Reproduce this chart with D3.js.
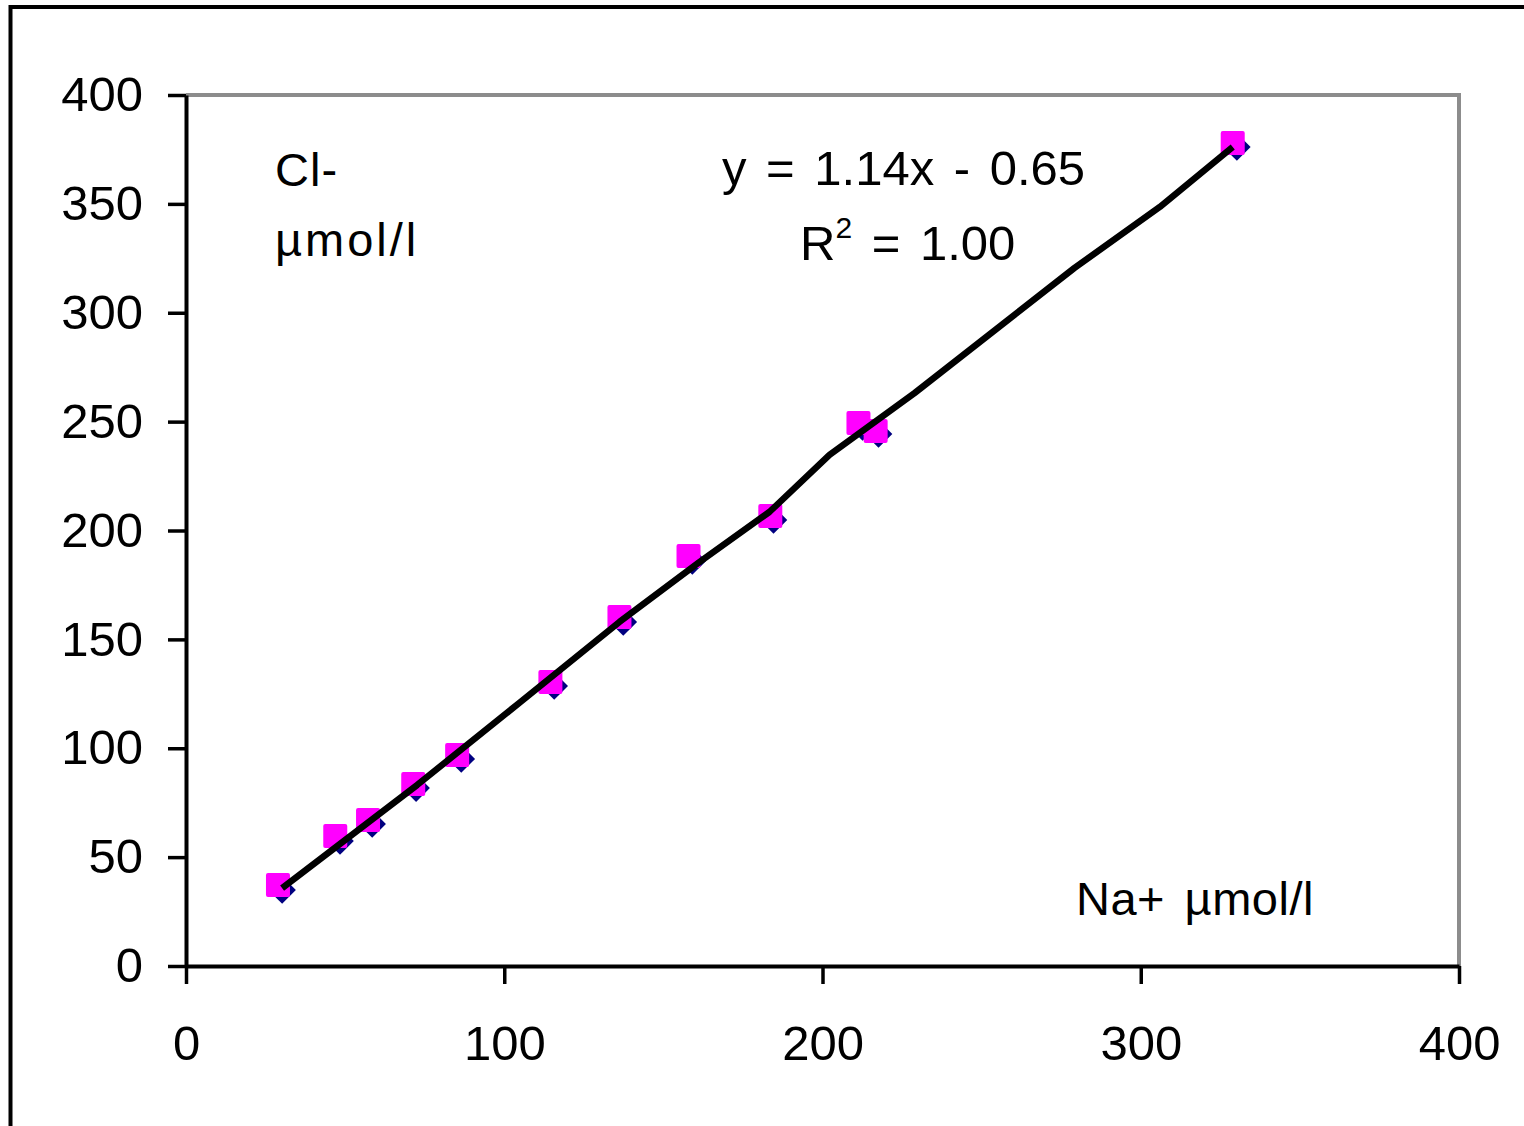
<!DOCTYPE html>
<html>
<head>
<meta charset="utf-8">
<script src="https://cdn.jsdelivr.net/npm/d3@7"></script>
<style>
  html, body { margin: 0; padding: 0; background: #fff; overflow: hidden; }
  svg { display: block; font-family: "Liberation Sans", Arial, sans-serif; }
</style>
</head>
<body>
<svg id="svg" width="1524" height="1126"></svg>
<script>
// Na+ / Cl- values
const naDiamond = [30.2, 48.4, 58.5, 72.3, 86.5, 115.7, 137.4, 159.1, 184.6, 212.6, 217.6, 330.2];
const clDiamond = [34.9, 57.4, 65.2, 81.7, 95.1, 128.6, 158.0, 186.0, 204.8, 247.5, 244.3, 376.1];

const naSquare = [28.9, 46.9, 57.2, 71.4, 85.2, 114.5, 136.2, 157.9, 183.6, 211.3, 216.7, 328.9];
const clSquare = [37.2, 59.7, 67.0, 83.6, 96.9, 130.4, 160.3, 188.3, 206.7, 249.4, 245.7, 378.0];

// black line vertices
const naLine = [30.2, 72.6, 104.7, 136.2, 161.3, 183.3, 202.2, 228.9, 279.2, 306.0, 328.9];
const clLine = [35.8, 83.1, 120.8, 158.0, 185.5, 208.5, 234.7, 263.1, 320.6, 348.6, 376.1];

const xTicks = [0, 100, 200, 300, 400];
const yTicks = [0, 50, 100, 150, 200, 250, 300, 350, 400];

const svg = d3.select("#svg");

// outer chart border (clipped on the right and bottom)
svg.append("rect")
  .attr("x", 10.5).attr("y", 7)
  .attr("width", 1700).attr("height", 1300)
  .attr("fill", "none")
  .attr("stroke", "#000")
  .attr("stroke-width", 4);

const x = d3.scaleLinear().domain([0, 400]).range([186, 1459]);
const y = d3.scaleLinear().domain([0, 400]).range([966, 95]);

// plot area: grey top/right
svg.append("path")
  .attr("d", `M${x(0)},${y(400)}H${x(400)}V${y(0)}`)
  .attr("fill", "none")
  .attr("stroke", "#8c8c8c")
  .attr("stroke-width", 4);

const yAxis = svg.append("g")
  .attr("transform", `translate(${x(0)},0)`)
  .call(d3.axisLeft(y).tickValues(yTicks).tickSize(18).tickSizeOuter(0).tickPadding(25));
const xAxis = svg.append("g")
  .attr("transform", `translate(0,${y(0)})`)
  .call(d3.axisBottom(x).tickValues(xTicks).tickSize(18).tickSizeOuter(0).tickPadding(41));

[xAxis, yAxis].forEach(a => {
  a.select(".domain").attr("stroke", "#000").attr("stroke-width", 4);
  a.selectAll(".tick line").attr("stroke", "#000").attr("stroke-width", 3.5);
  a.selectAll(".tick text")
    .attr("fill", "#000")
    .style("font-size", "49px")
    .style("font-family", "Liberation Sans, Arial, sans-serif");
});

// diamonds
const diamond = d3.symbol(d3.symbolSquare, 19.5 * 19.5);
svg.append("g").selectAll("path")
  .data(naDiamond.map((d, i) => [d, clDiamond[i]]))
  .join("path")
  .attr("d", diamond)
  .attr("transform", d => `translate(${x(d[0])},${y(d[1])}) rotate(45)`)
  .attr("fill", "#000080");

// squares
const sq = 24;
svg.append("g").selectAll("rect")
  .data(naSquare.map((d, i) => [d, clSquare[i]]))
  .join("rect")
  .attr("x", d => x(d[0]) - sq / 2)
  .attr("y", d => y(d[1]) - sq / 2)
  .attr("width", sq).attr("height", sq)
  .attr("rx", 2)
  .attr("fill", "#ff00ff");

// line
svg.append("path")
  .datum(naLine.map((d, i) => [d, clLine[i]]))
  .attr("d", d3.line().x(d => x(d[0])).y(d => y(d[1])))
  .attr("fill", "none")
  .attr("stroke", "#000")
  .attr("stroke-width", 6.5)
  .attr("stroke-linejoin", "round");

// labels
const lab = (tx, ty, t, fs) => svg.append("text")
  .attr("x", tx).attr("y", ty)
  .style("font-size", fs + "px")
  .attr("fill", "#000")
  .text(t);

lab(275, 186, "Cl-", 47).style("letter-spacing", "1px");
lab(275, 256, "µmol/l", 47).style("letter-spacing", "3px");
lab(1076, 915, "Na+ µmol/l", 47).style("word-spacing", "6px").style("letter-spacing", "0.5px");
lab(722, 185, "y = 1.14x - 0.65", 49).style("word-spacing", "6px");

const r2 = svg.append("text")
  .attr("x", 800).attr("y", 260)
  .style("font-size", "49px")
  .style("word-spacing", "6px")
  .attr("fill", "#000");
r2.append("tspan").text("R");
r2.append("tspan").attr("dy", -22).style("font-size", "30px").text("2");
r2.append("tspan").attr("dy", 22).text(" = 1.00");
</script>
</body>
</html>
